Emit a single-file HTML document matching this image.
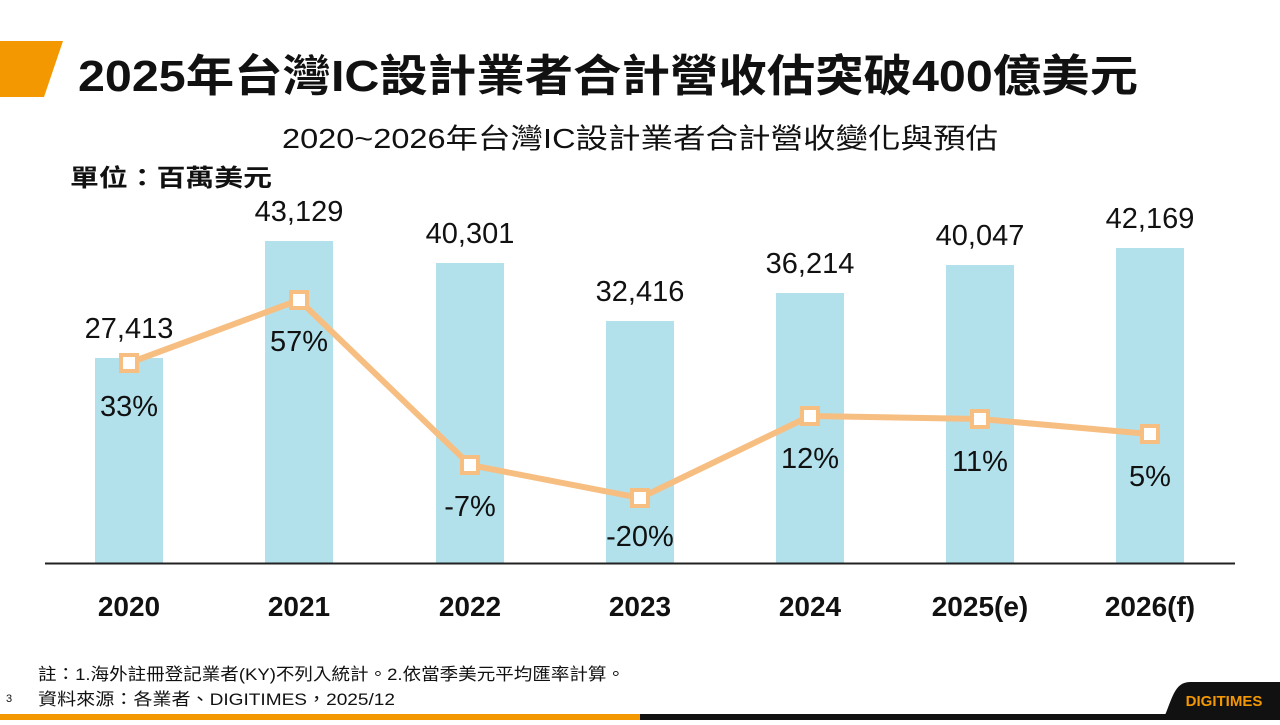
<!DOCTYPE html>
<html><head><meta charset="utf-8"><style>
body{margin:0;width:1280px;height:720px;overflow:hidden;background:#fff;font-family:"Liberation Sans","Noto Sans CJK TC",sans-serif;}
</style></head><body>
<svg width="1280" height="720" xmlns="http://www.w3.org/2000/svg" font-family="Liberation Sans, Noto Sans CJK TC, sans-serif">
<polygon points="0,41 63,41 44,97 0,97" fill="#F39800"/>
<text x="78" y="91" font-size="44" font-weight="bold" fill="#111" textLength="1060" lengthAdjust="spacingAndGlyphs">2025年台灣IC設計業者合計營收估突破400億美元</text>
<text x="282" y="148" font-size="28" fill="#111" textLength="716" lengthAdjust="spacingAndGlyphs">2020~2026年台灣IC設計業者合計營收變化與預估</text>
<text x="70" y="186" font-size="24" font-weight="bold" fill="#111" textLength="202" lengthAdjust="spacingAndGlyphs">單位：百萬美元</text>
<g fill="#B2E1EC">
<rect x="95" y="358" width="68" height="205"/>
<rect x="265" y="241" width="68" height="322"/>
<rect x="436" y="263" width="68" height="300"/>
<rect x="606" y="321" width="68" height="242"/>
<rect x="776" y="293" width="68" height="270"/>
<rect x="946" y="265" width="68" height="298"/>
<rect x="1116" y="248" width="68" height="315"/>
</g>
<line x1="45" y1="563.5" x2="1235" y2="563.5" stroke="#222" stroke-width="2"/>
<g font-size="29" text-anchor="middle" fill="#111">
<text x="129" y="338">27,413</text>
<text x="299" y="221">43,129</text>
<text x="470" y="243">40,301</text>
<text x="640" y="301">32,416</text>
<text x="810" y="273">36,214</text>
<text x="980" y="245">40,047</text>
<text x="1150" y="228">42,169</text>
</g>
<polyline points="129,363 299,300 470,465 640,498 810,416 980,419 1150,434" fill="none" stroke="#F7BE82" stroke-width="6" stroke-linejoin="round"/>
<g fill="#fff" stroke="#F7BE82" stroke-width="4">
<rect x="121" y="355" width="16" height="16"/><rect x="291" y="292" width="16" height="16"/><rect x="462" y="457" width="16" height="16"/><rect x="632" y="490" width="16" height="16"/><rect x="802" y="408" width="16" height="16"/><rect x="972" y="411" width="16" height="16"/><rect x="1142" y="426" width="16" height="16"/>
</g>
<g font-size="29" text-anchor="middle" fill="#111">
<text x="129" y="416">33%</text>
<text x="299" y="351">57%</text>
<text x="470" y="516">-7%</text>
<text x="640" y="546">-20%</text>
<text x="810" y="468">12%</text>
<text x="980" y="471">11%</text>
<text x="1150" y="486">5%</text>
</g>
<g font-size="28" font-weight="bold" text-anchor="middle" fill="#111">
<text x="129" y="616">2020</text><text x="299" y="616">2021</text><text x="470" y="616">2022</text><text x="640" y="616">2023</text><text x="810" y="616">2024</text><text x="980" y="616">2025(e)</text><text x="1150" y="616">2026(f)</text>
</g>
<text x="38" y="680" font-size="17" fill="#111" textLength="587" lengthAdjust="spacingAndGlyphs">註：1.海外註冊登記業者(KY)不列入統計。2.依當季美元平均匯率計算。</text>
<text x="38" y="705" font-size="17" fill="#111" textLength="357" lengthAdjust="spacingAndGlyphs">資料來源：各業者、DIGITIMES，2025/12</text>
<text x="6" y="702" font-size="11" fill="#111">3</text>
<rect x="0" y="714" width="640" height="6" fill="#F39800"/>
<rect x="640" y="714" width="640" height="6" fill="#111"/>
<path d="M1163,720 C1172,700 1174,682 1190,682 L1280,682 L1280,720 Z" fill="#111"/>
<text x="1224" y="706" font-size="15" font-weight="bold" fill="#F39800" text-anchor="middle">DIGITIMES</text>
</svg>
</body></html>
